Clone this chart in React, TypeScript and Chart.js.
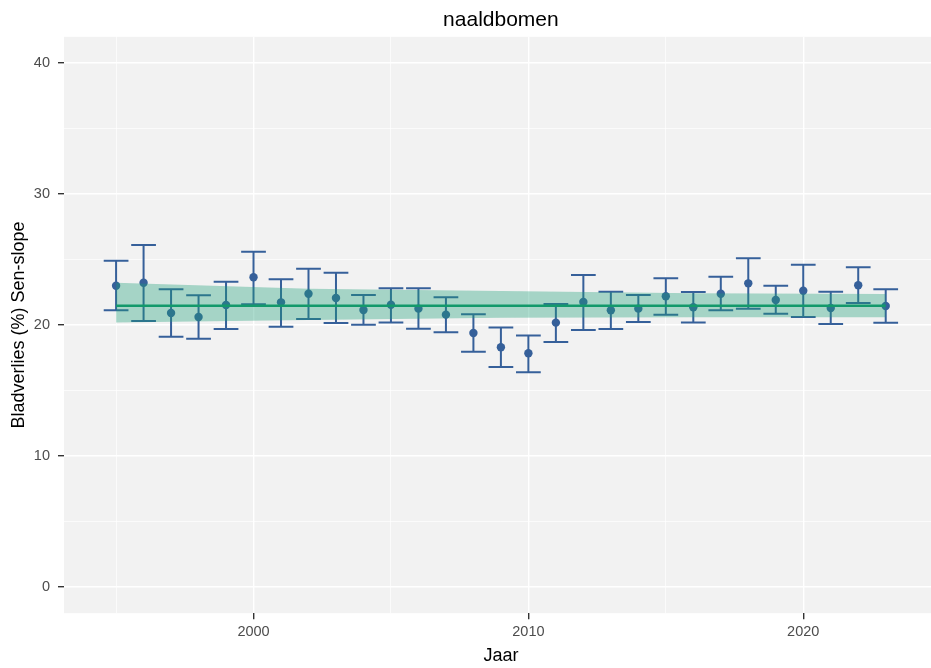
import React, { useEffect, useRef } from 'react';
import { Chart, registerables } from 'chart.js';

Chart.register(...registerables);

const years = [1995, 1996, 1997, 1998, 1999, 2000, 2001, 2002, 2003, 2004, 2005, 2006, 2007, 2008, 2009, 2010, 2011, 2012, 2013, 2014, 2015, 2016, 2017, 2018, 2019, 2020, 2021, 2022, 2023];
const means = [23.0, 23.23, 20.92, 20.61, 21.53, 23.64, 21.73, 22.39, 22.06, 21.15, 21.55, 21.25, 20.79, 19.39, 18.3, 17.84, 20.18, 21.76, 21.12, 21.25, 22.19, 21.35, 22.39, 23.18, 21.91, 22.62, 21.3, 23.03, 21.45];
const upper = [24.9, 26.1, 22.72, 22.27, 23.3, 25.6, 23.5, 24.3, 23.99, 22.29, 22.8, 22.8, 22.11, 20.82, 19.8, 19.2, 21.6, 23.82, 22.54, 22.29, 23.56, 22.52, 23.69, 25.1, 23.0, 24.6, 22.54, 24.4, 22.72];
const lower = [21.12, 20.3, 19.1, 18.95, 19.7, 21.58, 19.87, 20.46, 20.15, 20.02, 20.2, 19.72, 19.44, 17.96, 16.8, 16.4, 18.7, 19.62, 19.7, 20.23, 20.79, 20.2, 21.12, 21.25, 20.86, 20.61, 20.08, 21.68, 20.18];

const ribbonYears = [1995, 2002, 2009, 2016, 2023];
const ribbonUpper = [23.23, 22.77, 22.6, 22.42, 22.37];
const ribbonLower = [20.2, 20.38, 20.56, 20.6, 20.6];

const senYears = [1995, 2023];
const senValues = [21.47, 21.47];

const xTicks = [1995, 2000, 2005, 2010, 2015, 2020];
const xLabelled = [2000, 2010, 2020];
const yTicks = [0, 5, 10, 15, 20, 25, 30, 35, 40];
const yLabelled = [0, 10, 20, 30, 40];

const TITLE = 'naaldbomen';
const X_TITLE = 'Jaar';
const Y_TITLE = 'Bladverlies (%) Sen-slope';

const POINT_COLOR = '#36609A';
const LINE_COLOR = '#13996B';
const RIBBON_COLOR = 'rgba(27,158,119,0.36)';
const PANEL_BG = '#F2F2F2';
const FONT = '"Liberation Sans", Arial, Helvetica, sans-serif';

export default function App() {
  const ref = useRef<HTMLCanvasElement | null>(null);

  useEffect(() => {
    if (!ref.current) return;

    const panelBg = {
      id: 'panelBg',
      beforeDraw(chart: any) {
        const { ctx, chartArea } = chart;
        ctx.save();
        ctx.fillStyle = PANEL_BG;
        ctx.fillRect(chartArea.left, chartArea.top, chartArea.right - chartArea.left, chartArea.bottom - chartArea.top);
        ctx.restore();
      },
    };

    const errorBars = {
      id: 'errorBars',
      beforeDatasetsDraw(chart: any) {
        const { ctx, scales } = chart;
        const xs = scales.x;
        const ys = scales.y;
        ctx.save();
        ctx.strokeStyle = POINT_COLOR;
        ctx.lineWidth = 2;
        ctx.lineCap = 'butt';
        years.forEach((yr, i) => {
          const x = xs.getPixelForValue(yr);
          const xl = xs.getPixelForValue(yr - 0.45);
          const xr = xs.getPixelForValue(yr + 0.45);
          const yu = ys.getPixelForValue(upper[i]);
          const yl = ys.getPixelForValue(lower[i]);
          ctx.beginPath();
          ctx.moveTo(x, yu);
          ctx.lineTo(x, yl);
          ctx.moveTo(xl, yu);
          ctx.lineTo(xr, yu);
          ctx.moveTo(xl, yl);
          ctx.lineTo(xr, yl);
          ctx.stroke();
        });
        ctx.restore();
      },
    };

    const titlePlugin = {
      id: 'ggTitle',
      afterDraw(chart: any) {
        const { ctx, chartArea } = chart;
        ctx.save();
        ctx.font = `21px ${FONT}`;
        ctx.fillStyle = '#000000';
        ctx.textAlign = 'center';
        ctx.textBaseline = 'alphabetic';
        ctx.fillText(TITLE, (chartArea.left + chartArea.right) / 2, 26);
        ctx.restore();
      },
    };

    const chart = new Chart(ref.current, {
      type: 'line',
      data: {
        datasets: [
          {
            label: 'waarde',
            data: years.map((x, i) => ({ x, y: means[i] })),
            showLine: false,
            pointRadius: 4.2,
            pointBackgroundColor: POINT_COLOR,
            pointBorderWidth: 0,
            borderColor: POINT_COLOR,
            order: 3,
          },
          {
            label: 'ribbon-onder',
            data: ribbonYears.map((x, i) => ({ x, y: ribbonLower[i] })),
            borderWidth: 0,
            pointRadius: 0,
            fill: false,
            tension: 0,
            order: 2,
          },
          {
            label: 'ribbon-boven',
            data: ribbonYears.map((x, i) => ({ x, y: ribbonUpper[i] })),
            borderWidth: 0,
            pointRadius: 0,
            fill: '-1',
            backgroundColor: RIBBON_COLOR,
            tension: 0,
            order: 2,
          },
          {
            label: 'sen-slope',
            data: senYears.map((x, i) => ({ x, y: senValues[i] })),
            borderColor: LINE_COLOR,
            borderWidth: 2.3,
            pointRadius: 0,
            fill: false,
            order: 1,
          },
        ],
      },
      options: {
        responsive: false,
        animation: false,
        devicePixelRatio: 1,
        events: [],
        layout: { padding: { top: 36.8, left: 0, right: 0, bottom: 0 } },
        plugins: {
          legend: { display: false },
          tooltip: { enabled: false },
          title: { display: false },
        },
        scales: {
          x: {
            type: 'linear',
            min: 1993.105,
            max: 2024.895,
            afterBuildTicks: (s: any) => {
              s.ticks = xTicks.map((v) => ({ value: v }));
            },
            afterFit: (s: any) => {
              s.height = 54.8;
            },
            ticks: {
              autoSkip: false,
              maxRotation: 0,
              padding: 4,
              color: '#4D4D4D',
              font: { size: 14.5, family: FONT },
              callback: (v: any) => (xLabelled.includes(Number(v)) ? String(v) : ''),
            },
            grid: {
              color: '#FFFFFF',
              lineWidth: (c: any) => (c.tick && xLabelled.includes(c.tick.value) ? 1.4 : 0.7),
              tickColor: (c: any) => (c.tick && xLabelled.includes(c.tick.value) ? '#333333' : 'rgba(0,0,0,0)'),
              tickLength: 6,
              drawTicks: true,
            },
            border: { display: false },
            title: {
              display: true,
              text: X_TITLE,
              color: '#000000',
              font: { size: 18, family: FONT },
              padding: { top: 0, bottom: 1.2 },
            },
          },
          y: {
            type: 'linear',
            min: -2,
            max: 42,
            afterBuildTicks: (s: any) => {
              s.ticks = yTicks.map((v) => ({ value: v }));
            },
            afterFit: (s: any) => {
              s.width = 64;
            },
            ticks: {
              padding: 8,
              color: '#4D4D4D',
              font: { size: 14.5, family: FONT },
              callback: (v: any) => (yLabelled.includes(Number(v)) ? String(v) : ''),
            },
            grid: {
              color: '#FFFFFF',
              lineWidth: (c: any) => (c.tick && yLabelled.includes(c.tick.value) ? 1.4 : 0.7),
              tickColor: (c: any) => (c.tick && yLabelled.includes(c.tick.value) ? '#333333' : 'rgba(0,0,0,0)'),
              tickLength: 6,
              drawTicks: true,
            },
            border: { display: false },
            title: {
              display: true,
              text: Y_TITLE,
              color: '#000000',
              font: { size: 18, family: FONT },
              padding: { top: 8.2, bottom: 0 },
            },
          },
        },
      },
      plugins: [panelBg, errorBars, titlePlugin],
    } as any);

    return () => chart.destroy();
  }, []);

  return (
    <div style={{ position: 'fixed', left: 0, top: 0, width: 931, height: 668, overflow: 'hidden', background: '#FFFFFF' }}>
      <canvas ref={ref} width={942} height={668} style={{ display: 'block', width: 942, height: 668 }} />
    </div>
  );
}
